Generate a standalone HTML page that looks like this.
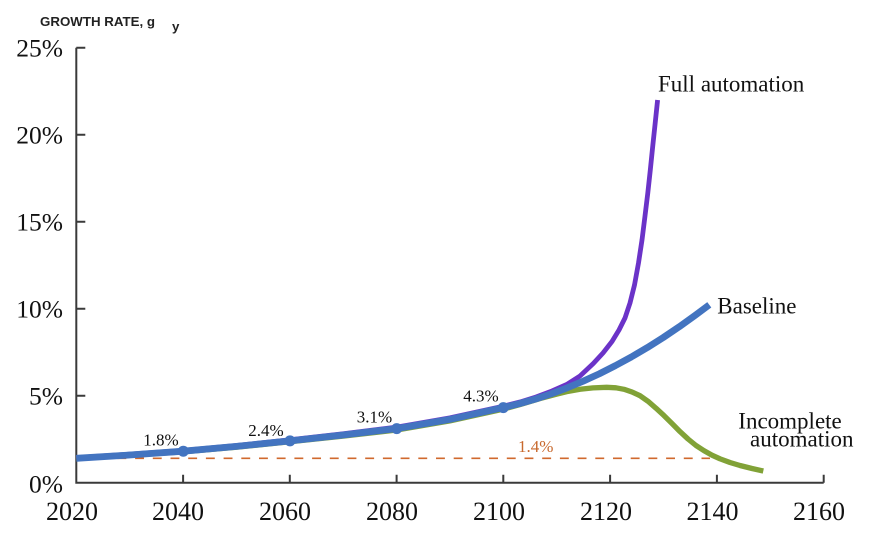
<!DOCTYPE html>
<html><head><meta charset="utf-8"><style>
html,body{margin:0;padding:0;background:#fff;}
svg{display:block;}
.t{font-family:"Liberation Serif",serif;fill:#111;}
</style></head><body>
<svg width="876" height="543" viewBox="0 0 876 543" xmlns="http://www.w3.org/2000/svg">
<text x="40" y="26" font-family="Liberation Sans, sans-serif" font-weight="bold" font-size="13.3" fill="#222">GROWTH RATE, g</text>
<text x="172" y="31" font-family="Liberation Sans, sans-serif" font-weight="bold" font-size="13.3" fill="#222">y</text>

<g stroke="#3a3a3a" stroke-width="2" fill="none">
<path d="M76.3,47.7 V482.7 H823.7"/>
<path d="M76.3,47.7 h9 M76.3,134.7 h9 M76.3,221.7 h9 M76.3,308.7 h9 M76.3,395.7 h9"/>
<path d="M183.1,482.7 v-8 M289.8,482.7 v-8 M396.6,482.7 v-8 M503.3,482.7 v-8 M610.1,482.7 v-8 M716.9,482.7 v-8 M823.7,482.7 v-8"/>
</g>

<g class="t" font-size="25.5" text-anchor="end">
<text x="63" y="56.5">25%</text>
<text x="63" y="143.5">20%</text>
<text x="63" y="230.5">15%</text>
<text x="63" y="317.5">10%</text>
<text x="63" y="404.5">5%</text>
<text x="63" y="492.5">0%</text>
</g>
<g class="t" font-size="26" text-anchor="middle">
<text x="72" y="520">2020</text>
<text x="178" y="520">2040</text>
<text x="285" y="520">2060</text>
<text x="392" y="520">2080</text>
<text x="499" y="520">2100</text>
<text x="606" y="520">2120</text>
<text x="712.5" y="520">2140</text>
<text x="819" y="520">2160</text>
</g>

<line x1="82" y1="458.3" x2="710" y2="458.3" stroke="#d0692e" stroke-width="1.6" stroke-dasharray="8.9 8.8"/>
<text x="518" y="452" font-family="Liberation Serif, serif" font-size="17" fill="#c8692e">1.4%</text>

<polyline fill="none" stroke="#81a237" stroke-width="5.3" stroke-linejoin="round" stroke-linecap="butt"
points="76.3,458.6 129.7,455.4 183.3,451.8 236.4,447.2 290,441.8 343.2,436.1 396.7,430 449.9,420.9 503.3,409.1 520,404.6 540,398.6 556,394.3 566.7,391.7 580,389.3 593,387.9 606.7,387.3 616,387.8 624,389.3 632,392 640,395.7 648,401.3 656,408.2 664,415.6 672,423.5 680,431.6 688,439 696,445.5 704,450.7 712,455.2 720,458.8 730,462.5 740,465.5 752,468.5 763.3,471"/>

<polyline fill="none" stroke="#6b33c8" stroke-width="4.8" stroke-linejoin="round" stroke-linecap="butt"
points="76.3,457.6 129.7,454.2 183.3,450.4 236.4,445.5 290,439.8 343.2,433.7 396.7,427.1 449.9,417.9 503.3,406.2 520,402 536,397 552,391 566.7,384.5 580,376 593.3,363.5 603,353 612,341.5 619,330 625,318 630,303 634.5,285 638.5,263 642,240 645,216 647.8,193 650.3,170 652.7,146.5 655.2,123 657.6,100"/>

<polyline fill="none" stroke="#4374c0" stroke-width="6.8" stroke-linejoin="round" stroke-linecap="butt"
points="76.3,458.3 129.7,455 183.3,451.2 236.4,446.4 290,440.9 343.2,435 396.7,428.6 449.9,419.4 503.3,407.6 519.3,403.7 535.3,399.1 551.3,393.8 567.3,387.8 583.3,381.1 599.3,373.8 615.3,365.7 631.3,357 647.3,347.6 663.3,337.5 679.3,326.7 695.3,315.2 709.3,304.8"/>

<g fill="#4374c0">
<circle cx="183.3" cy="451.2" r="5.5"/>
<circle cx="290" cy="440.9" r="5.5"/>
<circle cx="396.7" cy="428.6" r="5.5"/>
<circle cx="503.3" cy="407.6" r="5.5"/>
</g>

<g class="t" font-size="17">
<text x="143.3" y="445.7">1.8%</text>
<text x="248.3" y="436">2.4%</text>
<text x="356.7" y="422.7">3.1%</text>
<text x="463.3" y="401.7">4.3%</text>
</g>

<g class="t" font-size="23">
<text x="658" y="91.7">Full automation</text>
<text x="717.3" y="313.3">Baseline</text>
<text x="738.3" y="428.3">Incomplete</text>
<text x="750" y="446.7">automation</text>
</g>
</svg>
</body></html>
